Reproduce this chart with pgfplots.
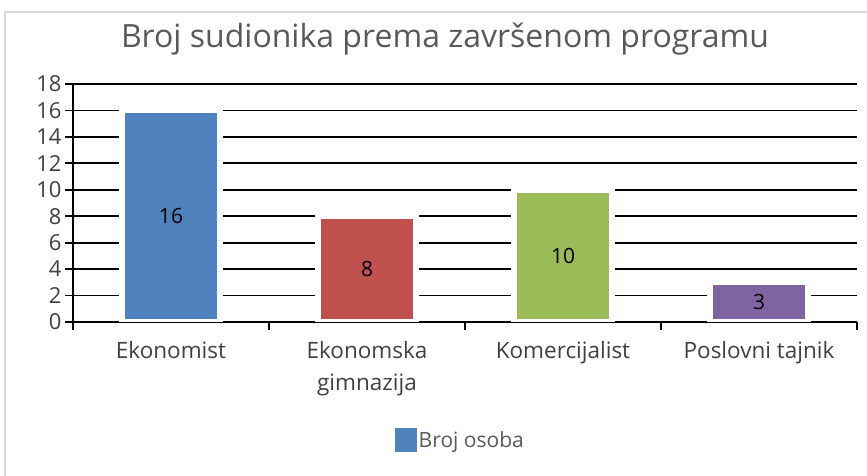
\documentclass[border=0pt]{standalone}
\usepackage{fontspec}
\setmainfont{Open Sans}
\usepackage{pgfplots}
\pgfplotsset{compat=1.18}
\definecolor{cblue}{HTML}{4F81BD}
\definecolor{cred}{HTML}{C0504D}
\definecolor{cgreen}{HTML}{9BBB59}
\definecolor{cpurple}{HTML}{8064A2}
\definecolor{ctext}{HTML}{404040}
\definecolor{ctitle}{HTML}{595959}
\begin{document}
\begin{tikzpicture}[x=1bp,y=1bp]
\useasboundingbox (0,0) rectangle (867,476);
\draw[color=black!15, line width=1.2bp] (5,0) -- (5,464) -- (867,464);
\node[text=ctitle, font=\fontsize{32bp}{36bp}\selectfont] at (445,437) {Broj sudionika prema završenom programu};
\begin{axis}[
  at={(73bp,154bp)}, anchor=south west,
  scale only axis, width=784bp, height=238bp,
  xmin=-0.5, xmax=3.5, ymin=0, ymax=18,
  ytick={0,2,...,18},
  ymajorgrids,
  grid style={black, line width=1.7bp},
  axis x line=bottom, axis y line=left,
  axis line style={-, black, line width=1.7bp},
  tick align=outside,
  major tick length=8bp,
  tick style={black, line width=1.7bp},
  xtick={-0.5,0.5,1.5,2.5,3.5},
  xticklabels={},
  extra x ticks={0,1,2,3},
  extra x tick labels={Ekonomist,{Ekonomska\\gimnazija},Komercijalist,Poslovni tajnik},
  extra x tick style={major tick length=0pt, grid=none,
     xticklabel style={align=center, text=ctext, font=\fontsize{22.5bp}{32bp}\selectfont, yshift=-16bp, anchor=north}},
  yticklabel style={text=ctext, font=\fontsize{22bp}{24bp}\selectfont},
  /pgf/number format/assume math mode=true,
  legend style={at={(0.494,-0.496)}, anchor=center, draw=none, fill=none,
     font=\fontsize{21bp}{24bp}\selectfont, text=ctitle},
  legend cell align=left,
]
\addplot[ybar, bar width=98bp, bar shift=0pt, fill=cblue, draw=white, line width=6bp,
  legend image code/.code={\fill[cblue] (0bp,-9bp) rectangle (16bp,9bp);}] coordinates {(0,16)};
\addlegendentry{Broj osoba}
\addplot[ybar, bar width=98bp, bar shift=0pt, fill=cred, draw=white, line width=6bp, forget plot] coordinates {(1,8)};
\addplot[ybar, bar width=98bp, bar shift=0pt, fill=cgreen, draw=white, line width=6bp, forget plot] coordinates {(2,10)};
\addplot[ybar, bar width=98bp, bar shift=0pt, fill=cpurple, draw=white, line width=6bp, forget plot] coordinates {(3,3)};
\addplot[draw=none, mark=none, forget plot, nodes near coords, point meta=explicit symbolic,
  nodes near coords style={anchor=center, text=black, font=\fontsize{21bp}{24bp}\selectfont}]
  coordinates {(0,8)[16] (1,4)[8] (2,5)[10] (3,1.5)[3]};
\end{axis}
\end{tikzpicture}
\end{document}
